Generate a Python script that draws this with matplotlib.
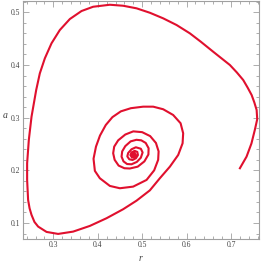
import numpy as np
import matplotlib.pyplot as plt
from matplotlib.ticker import MultipleLocator

# trayectoria (r, a), desde el punto inicial hacia el foco
r = [0.720, 0.735, 0.746, 0.754, 0.759, 0.7577, 0.7525, 0.7464, 0.7375, 0.7275,
     0.713, 0.6975, 0.6599, 0.632, 0.6074, 0.5775, 0.5473, 0.5173, 0.4874, 0.4572,
     0.4273, 0.3896, 0.3635, 0.3372, 0.3146, 0.2959, 0.2809, 0.2696, 0.2614, 0.2509,
     0.2448, 0.2410, 0.2410, 0.2432, 0.2465, 0.2509, 0.2575, 0.2658, 0.2847, 0.3108,
     0.3446, 0.3822, 0.4198, 0.4572, 0.4874, 0.5173, 0.5398, 0.5624, 0.5811, 0.591,
     0.5923, 0.5865, 0.5698, 0.5473, 0.5248, 0.5023, 0.4746, 0.452, 0.433, 0.418,
     0.405, 0.396, 0.3905, 0.3935, 0.4047, 0.4273, 0.4498, 0.4797, 0.5099, 0.527,
     0.536, 0.537, 0.531, 0.518, 0.500, 0.480, 0.462, 0.446, 0.437, 0.4347,
     0.438, 0.447, 0.460, 0.4723, 0.490, 0.505, 0.514, 0.5145, 0.508, 0.498,
     0.487, 0.474, 0.462, 0.455, 0.4536, 0.458, 0.466, 0.476, 0.488, 0.497,
     0.501, 0.497, 0.4858, 0.476, 0.4685, 0.4665, 0.471, 0.4784, 0.486, 0.4905,
     0.489, 0.483, 0.476, 0.4735, 0.477, 0.483, 0.4855, 0.483, 0.479, 0.4785,
     0.481, 0.482, 0.481]
a = [0.204, 0.226, 0.251, 0.278, 0.297, 0.3146, 0.329, 0.3431, 0.357, 0.3715,
     0.386, 0.400, 0.4252, 0.4442, 0.4601, 0.4759, 0.4886, 0.4992, 0.5076, 0.5125,
     0.5144, 0.5106, 0.5025, 0.4873, 0.4664, 0.4412, 0.4127, 0.3842, 0.3525, 0.3019,
     0.2577, 0.2135, 0.1818, 0.1438, 0.128, 0.1154, 0.102, 0.0932, 0.0831, 0.0793,
     0.0837, 0.0945, 0.1091, 0.1262, 0.1425, 0.1620, 0.185, 0.207, 0.2292, 0.2514,
     0.2704, 0.2894, 0.3051, 0.316, 0.3209, 0.3209, 0.318, 0.312, 0.301, 0.286,
     0.266, 0.245, 0.222, 0.199, 0.185, 0.1704, 0.166, 0.1691, 0.1818, 0.200,
     0.220, 0.236, 0.252, 0.265, 0.2725, 0.2740, 0.268, 0.257, 0.245, 0.2325,
     0.220, 0.209, 0.204, 0.2035, 0.207, 0.217, 0.230, 0.242, 0.252, 0.257,
     0.258, 0.255, 0.246, 0.236, 0.226, 0.217, 0.212, 0.2115, 0.216, 0.224,
     0.234, 0.241, 0.2438, 0.240, 0.233, 0.2265, 0.221, 0.2197, 0.223, 0.229,
     0.235, 0.237, 0.234, 0.229, 0.2245, 0.2255, 0.2295, 0.233, 0.2315, 0.2285,
     0.228, 0.230, 0.2305]

rojo = '#e0102e'
gris = '#a0a0a0'

fig = plt.figure(figsize=(2.62, 2.65), dpi=100)
ax = fig.add_axes([0.0866, 0.0992, 0.9019, 0.8968])
ax.plot(r, a, color=rojo, linewidth=1.5, solid_joinstyle='round')

ax.set_xlim(0.231, 0.763)
ax.set_ylim(0.0702, 0.5214)
ax.xaxis.set_major_locator(MultipleLocator(0.1))
ax.xaxis.set_minor_locator(MultipleLocator(0.02))
ax.yaxis.set_major_locator(MultipleLocator(0.1))
ax.yaxis.set_minor_locator(MultipleLocator(0.02))
ax.tick_params(which='both', direction='in', top=True, right=True,
               color=gris, width=0.6, labelsize=5.5, labelcolor='#444444', pad=2)
ax.tick_params(which='major', length=4)
ax.tick_params(which='minor', length=2)
for s in ax.spines.values():
    s.set_color(gris)
    s.set_linewidth(0.8)
for t in ax.get_xticklabels() + ax.get_yticklabels():
    t.set_family('Liberation Serif')

ax.set_xlabel('r', family='Liberation Serif', style='italic', fontsize=7,
              color='#444444', labelpad=3)
ax.set_ylabel('a', family='Liberation Serif', style='italic', fontsize=7,
              color='#444444', rotation=0, labelpad=4)

plt.savefig('out.png', dpi=100)
